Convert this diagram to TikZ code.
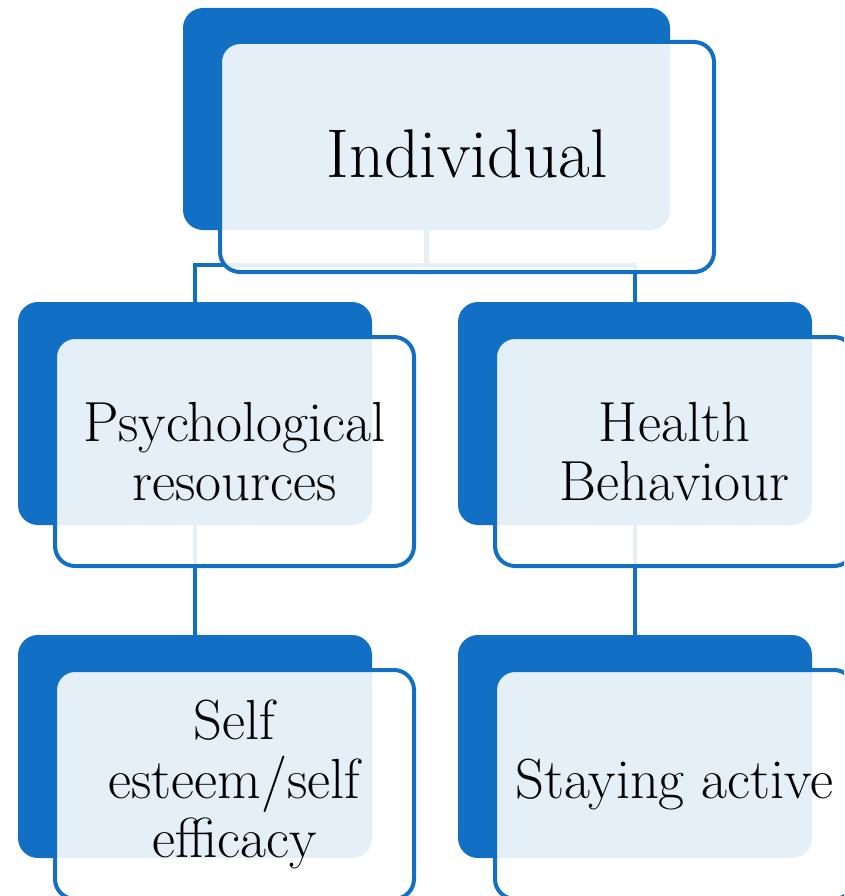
\documentclass[tikz,border=0pt]{standalone}
\usepackage{fontspec}
\usetikzlibrary{calc,backgrounds}
\definecolor{sablue}{RGB}{17,112,196}
\tikzset{
  back/.style={rectangle, rounded corners=20pt, fill=sablue, draw=none, inner sep=0pt},
  frame/.style={rectangle, rounded corners=20pt, draw=sablue, line width=4pt, fill=white, fill opacity=0.89, text opacity=1, inner sep=0pt, align=center, text=black},
  conn/.style={draw=sablue, line width=4.5pt},
  bigtext/.style={font=\fontsize{69pt}{76pt}\selectfont},
  midtext/.style={font=\fontsize{56.5pt}{59pt}\selectfont},
}
\begin{document}
\begin{tikzpicture}[x=1pt,y=-1pt]
\useasboundingbox (0,0) rectangle (844,896);
\clip (0,0) rectangle (844,896);
% back shapes
\node[back, minimum width=487pt, minimum height=222pt] (topb) at (426.5,119) {};
\node[back, minimum width=354pt, minimum height=223pt] (mlb) at (195,413.5) {};
\node[back, minimum width=354pt, minimum height=223pt] (mrb) at (635,413.5) {};
\node[back, minimum width=354pt, minimum height=223pt] (blb) at (195,746.5) {};
\node[back, minimum width=354pt, minimum height=223pt] (brb) at (635,746.5) {};
% connectors (behind)
\begin{scope}[on background layer]
\coordinate (jn) at ($(topb.south)+(0,35)$);
\draw[conn] (topb.south) -- (jn) -| (mlb.north);
\draw[conn] (jn) -| (mrb.north);
\draw[conn] (mlb.south) -- (blb.north);
\draw[conn] (mrb.south) -- (brb.north);
\end{scope}
% frames with text
\node[frame, bigtext, minimum width=494pt, minimum height=230pt, text depth=6pt] (top) at (467,157) {Individual};
\node[frame, midtext, minimum width=359pt, minimum height=229pt] (ml) at (234.5,451.5) {Psychological\\resources};
\node[frame, midtext, minimum width=359pt, minimum height=229pt] (mr) at (674.5,451.5) {Health\\Behaviour};
\node[frame, midtext, minimum width=359pt, minimum height=229pt] (bl) at (234.5,784.5) {Self\\esteem/self\\efficacy};
\node[frame, midtext, minimum width=359pt, minimum height=229pt] (br) at (674.5,784.5) {Staying active};
\end{tikzpicture}
\end{document}
